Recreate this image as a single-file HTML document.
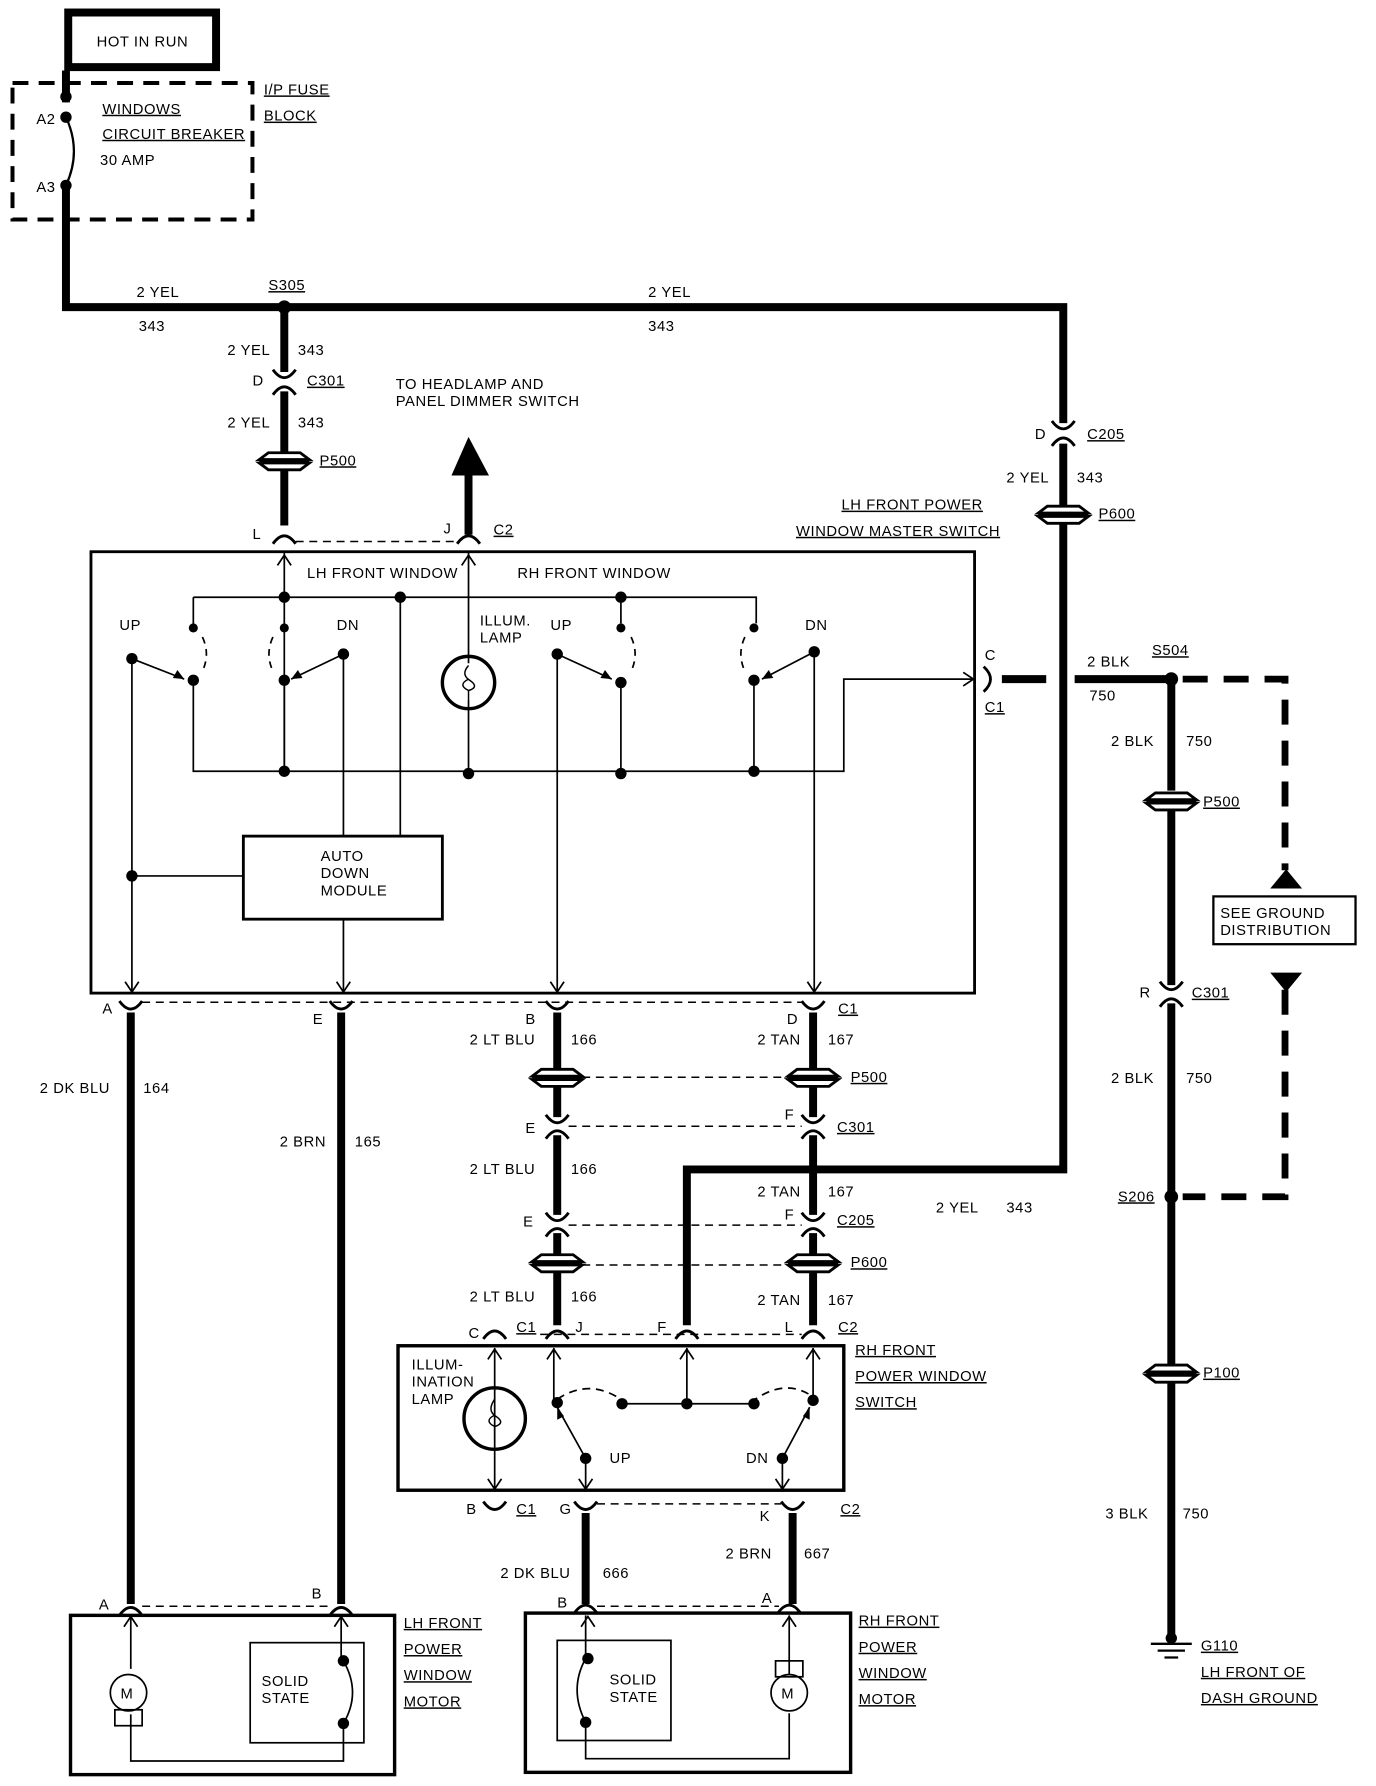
<!DOCTYPE html>
<html><head><meta charset="utf-8"><style>
html,body{margin:0;padding:0;background:#fff}
svg{display:block}
text{font-family:"Liberation Sans",sans-serif;font-size:13px;fill:#000;letter-spacing:0.5px}
.u{text-decoration:underline}
</style></head><body>
<svg width="1376" height="1786" viewBox="0 0 1210 1570" preserveAspectRatio="none" xmlns="http://www.w3.org/2000/svg">
<defs>
<path id="up" d="M-10,5 Q0,-9 10,5" fill="none" stroke="#000" stroke-width="2.5"/>
<path id="dn" d="M-10,-5 Q0,9 10,-5" fill="none" stroke="#000" stroke-width="2.5"/>
<g id="gr"><path d="M-14,-7 L14,-7 L22,-1 L-22,-1 Z M-22,2 L22,2 L14,8 L-14,8 Z" fill="#fff" stroke="#000" stroke-width="2.5"/><line x1="-22" y1="0.5" x2="22" y2="0.5" stroke="#000" stroke-width="2"/></g>
<path id="ah" d="M-6,-9 L0,0 L6,-9" fill="none" stroke="#000" stroke-width="1.5"/>
</defs>
<rect width="1210" height="1570" fill="#fff"/>
<g fill="none" stroke="#000">
<rect x="60" y="11" width="130" height="48" stroke-width="7"/>
<rect x="11" y="73" width="211" height="120" stroke-width="3.5" stroke-dasharray="14,9"/>
<g stroke-width="7">
<path d="M58,62 V90 M58,163 V270 H935 V372 M935,390 V445 M935,460 V1028 H604 V1165"/>
<path d="M250,270 V327 M250,344 V398 M250,412 V462"/>
<path d="M412,470 V410"/>
<path d="M881,597 H920 M945,597 H1030 V695 M1030,712 V866 M1030,882 V1200 M1030,1215 V1440"/>
<path d="M115,890 V1410 M300,890 V1410"/>
<path d="M490,890 V940 M490,955 V982 M490,998 V1068 M490,1084 V1103 M490,1118 V1165"/>
<path d="M715,890 V940 M715,955 V982 M715,998 V1068 M715,1084 V1103 M715,1118 V1165"/>
<path d="M515,1330 V1410 M697,1330 V1410"/>
</g>
<path d="M397,418 L412,384 L430,418 Z" fill="#000" stroke="none"/>
<path d="M58,103 Q72,133 58,163" stroke-width="2"/>
<path d="M1040,597 H1130 V765 M1130,870 V1052 H1040" stroke-width="6" stroke-dasharray="22,14"/>
<path d="M1117,781 L1131,764 L1145,781 Z M1117,855 L1145,855 L1131,872 Z" fill="#000" stroke="none"/>
<rect x="1067" y="788" width="125" height="42" stroke-width="2"/>
<g stroke-width="1.3" stroke-dasharray="7,5">
<path d="M260,476 H402 M125,881 H705 M500,947 H693 M500,990 H705 M500,1077 H705 M500,1112 H693 M525,1322 H687 M125,1412 H290 M525,1412 H685 M475,1173 H705"/>
</g>
<rect x="80" y="485" width="777" height="388" stroke-width="2.5"/>
<g stroke-width="1.5">
<path d="M250,485 V678 M170,525 H665 V548 M170,525 V550 M546,525 V548 M352,525 V735 M412,485 V583 M412,615 V678"/>
<path d="M170,598 V678 H742 V597 H857 M250,598 V678 M546,600 V678 M663,598 V678"/>
<path d="M116,579 V873 M302,575 V735 M302,808 V873 M490,575 V873 M716,573 V873 M116,770 H214"/>
<path d="M116,579 L162,597 M302,575 L256,597 M490,575 L538,597 M716,573 L670,597" />
<path d="M178,560 Q185,575 178,590 M240,560 Q233,575 240,590 M555,560 Q562,575 555,590 M655,560 Q648,575 655,590" stroke-dasharray="6,5"/>
</g>
<rect x="214" y="735" width="175" height="73" stroke-width="2.5"/>
<circle cx="412" cy="600" r="23" stroke-width="3"/>
<path d="M412,585 Q405,593 413,598 Q422,604 412,607 Q402,602 412,597 M412,607 V615" stroke-width="1.3"/>
<rect x="350" y="1183" width="392" height="127" stroke-width="3"/>
<g stroke-width="1.5">
<path d="M435,1185 V1310 M487,1185 V1230 M604,1185 V1234 M715,1185 V1230 M547,1234 H663"/>
<path d="M515,1282 V1310 M688,1282 V1310 M515,1282 L490,1237 M688,1282 L712,1237"/>
<path d="M490,1230 Q520,1210 550,1233 M660,1233 Q690,1210 715,1228" stroke-dasharray="7,5"/>
</g>
<circle cx="435" cy="1247" r="27" stroke-width="3"/>
<path d="M435,1230 Q428,1240 436,1245 Q445,1251 435,1254 Q425,1249 435,1244 M435,1254 V1265" stroke-width="1.3"/>
<rect x="62" y="1420" width="285" height="140" stroke-width="3"/>
<rect x="462" y="1418" width="286" height="140" stroke-width="3"/>
<rect x="220" y="1444" width="100" height="88" stroke-width="1.5"/>
<rect x="490" y="1442" width="100" height="88" stroke-width="1.5"/>
<g stroke-width="1.5">
<path d="M115,1420 V1467 M115,1507 V1548 H302 V1515 M300,1420 V1460 M302,1460 Q318,1488 302,1515"/>
<circle cx="113" cy="1488" r="16"/><rect x="101" y="1503" width="24" height="14"/>
<path d="M515,1420 V1458 M515,1458 Q500,1485 515,1514 V1546 H694 V1506 M694,1420 V1472"/>
<circle cx="694" cy="1488" r="16"/><rect x="682" y="1460" width="24" height="14"/>
</g>
<path d="M1012,1445 H1048 M1018,1451 H1042 M1024,1457 H1036" stroke-width="2"/>
</g>
<g fill="#000">
<circle cx="58" cy="85" r="5"/><circle cx="58" cy="103" r="5"/><circle cx="58" cy="163" r="5"/>
<circle cx="250" cy="270" r="6"/><circle cx="1030" cy="597" r="6"/><circle cx="1030" cy="1052" r="6"/><circle cx="1030" cy="1440" r="5"/>
<circle cx="250" cy="525" r="5"/><circle cx="352" cy="525" r="5"/><circle cx="546" cy="525" r="5"/>
<circle cx="170" cy="552" r="4"/><circle cx="250" cy="552" r="4"/><circle cx="546" cy="552" r="4"/><circle cx="663" cy="552" r="4"/>
<circle cx="116" cy="579" r="5"/><circle cx="302" cy="575" r="5"/><circle cx="490" cy="575" r="5"/><circle cx="716" cy="573" r="5"/>
<circle cx="170" cy="598" r="5"/><circle cx="250" cy="598" r="5"/><circle cx="546" cy="600" r="5"/><circle cx="663" cy="598" r="5"/>
<circle cx="250" cy="678" r="5"/><circle cx="412" cy="680" r="5"/><circle cx="546" cy="680" r="5"/><circle cx="663" cy="678" r="5"/>
<circle cx="116" cy="770" r="5"/>
<circle cx="490" cy="1233" r="5"/><circle cx="547" cy="1234" r="5"/><circle cx="604" cy="1234" r="5"/><circle cx="663" cy="1234" r="5"/><circle cx="715" cy="1231" r="5"/>
<circle cx="515" cy="1282" r="5"/><circle cx="688" cy="1282" r="5"/>
<circle cx="517" cy="1458" r="5"/><circle cx="515" cy="1514" r="5"/><circle cx="302" cy="1460" r="5"/><circle cx="302" cy="1515" r="5"/>
</g>
<g>
<use href="#ah" transform="translate(250,488) rotate(180)"/><use href="#ah" transform="translate(412,488) rotate(180)"/>
<use href="#ah" transform="translate(116,872)"/><use href="#ah" transform="translate(302,872)"/><use href="#ah" transform="translate(490,872)"/><use href="#ah" transform="translate(716,872)"/>
<use href="#ah" transform="translate(856,597) rotate(-90)"/>
<use href="#ah" transform="translate(435,1186) rotate(180)"/><use href="#ah" transform="translate(487,1186) rotate(180)"/><use href="#ah" transform="translate(604,1186) rotate(180)"/><use href="#ah" transform="translate(715,1186) rotate(180)"/>
<use href="#ah" transform="translate(435,1309)"/><use href="#ah" transform="translate(515,1309)"/><use href="#ah" transform="translate(688,1309)"/>
<use href="#ah" transform="translate(115,1421) rotate(180)"/><use href="#ah" transform="translate(300,1421) rotate(180)"/><use href="#ah" transform="translate(517,1421) rotate(180)"/><use href="#ah" transform="translate(694,1421) rotate(180)"/>
<path d="M162,597 l-10,-1 l4,-7 z M256,597 l10,-1 l-4,-7 z M538,597 l-10,-1 l4,-7 z M670,597 l10,-1 l-4,-7 z M490,1237 l0,11 l6,-3 z M712,1237 l0,11 l-6,-3 z" fill="#000"/>
</g>
<g>
<use href="#dn" x="250" y="330"/><use href="#up" x="250" y="342"/>
<use href="#dn" x="935" y="375"/><use href="#up" x="935" y="387"/>
<use href="#dn" x="1030" y="868"/><use href="#up" x="1030" y="880"/>
<use href="#up" x="250" y="473"/><use href="#up" x="412" y="473"/>
<use href="#dn" x="115" y="885"/><use href="#dn" x="300" y="885"/><use href="#dn" x="490" y="885"/><use href="#dn" x="715" y="885"/>
<use href="#dn" x="490" y="985"/><use href="#up" x="490" y="996"/><use href="#dn" x="715" y="985"/><use href="#up" x="715" y="996"/>
<use href="#dn" x="490" y="1071"/><use href="#up" x="490" y="1082"/><use href="#dn" x="715" y="1071"/><use href="#up" x="715" y="1082"/>
<use href="#up" x="435" y="1172"/><use href="#up" x="490" y="1172"/><use href="#up" x="604" y="1172"/><use href="#up" x="715" y="1172"/>
<use href="#dn" x="435" y="1325"/><use href="#dn" x="515" y="1325"/><use href="#dn" x="697" y="1325"/>
<use href="#up" x="115" y="1415"/><use href="#up" x="300" y="1415"/><use href="#up" x="515" y="1413"/><use href="#up" x="694" y="1413"/>
<path d="M865,586 Q877,597 865,608" fill="none" stroke="#000" stroke-width="2.5"/>
<use href="#gr" x="250" y="405"/><use href="#gr" x="935" y="452"/><use href="#gr" x="1030" y="704"/><use href="#gr" x="1030" y="1207"/>
<use href="#gr" x="490" y="947"/><use href="#gr" x="715" y="947"/><use href="#gr" x="490" y="1110"/><use href="#gr" x="715" y="1110"/>
</g>
<text x="85" y="41">HOT IN RUN</text>
<text x="90" y="100" class="u">WINDOWS</text>
<text x="90" y="122" class="u">CIRCUIT BREAKER</text>
<text x="88" y="145">30 AMP</text>
<text x="32" y="109">A2</text><text x="32" y="169">A3</text>
<text x="232" y="83" class="u">I/P FUSE</text><text x="232" y="106" class="u">BLOCK</text>
<text x="120" y="261">2 YEL</text><text x="122" y="291">343</text>
<text x="236" y="255" class="u">S305</text>
<text x="570" y="261">2 YEL</text><text x="570" y="291">343</text>
<text x="200" y="312">2 YEL</text><text x="262" y="312">343</text>
<text x="222" y="339">D</text><text x="270" y="339" class="u">C301</text>
<text x="200" y="376">2 YEL</text><text x="262" y="376">343</text>
<text x="281" y="409" class="u">P500</text>
<text x="348" y="342">TO HEADLAMP AND</text><text x="348" y="357">PANEL DIMMER SWITCH</text>
<text x="222" y="474">L</text><text x="390" y="469">J</text><text x="434" y="470" class="u">C2</text>
<text x="740" y="448" class="u">LH FRONT POWER</text>
<text x="700" y="471" class="u">WINDOW MASTER SWITCH</text>
<text x="270" y="508">LH FRONT WINDOW</text><text x="455" y="508">RH FRONT WINDOW</text>
<text x="105" y="554">UP</text><text x="296" y="554">DN</text><text x="484" y="554">UP</text><text x="708" y="554">DN</text>
<text x="422" y="550">ILLUM.</text><text x="422" y="565">LAMP</text>
<text x="282" y="757">AUTO</text><text x="282" y="772">DOWN</text><text x="282" y="787">MODULE</text>
<text x="866" y="580">C</text><text x="866" y="626" class="u">C1</text>
<text x="910" y="386">D</text><text x="956" y="386" class="u">C205</text>
<text x="885" y="424">2 YEL</text><text x="947" y="424">343</text>
<text x="966" y="456" class="u">P600</text>
<text x="956" y="586">2 BLK</text><text x="958" y="616">750</text>
<text x="1013" y="576" class="u">S504</text>
<text x="977" y="656">2 BLK</text><text x="1043" y="656">750</text>
<text x="1058" y="709" class="u">P500</text>
<text x="1073" y="807">SEE GROUND</text><text x="1073" y="822">DISTRIBUTION</text>
<text x="1002" y="877">R</text><text x="1048" y="877" class="u">C301</text>
<text x="977" y="952">2 BLK</text><text x="1043" y="952">750</text>
<text x="983" y="1056" class="u">S206</text>
<text x="1058" y="1211" class="u">P100</text>
<text x="972" y="1335">3 BLK</text><text x="1040" y="1335">750</text>
<text x="1056" y="1451" class="u">G110</text><text x="1056" y="1474" class="u">LH FRONT OF</text><text x="1056" y="1497" class="u">DASH GROUND</text>
<text x="90" y="891">A</text><text x="275" y="900">E</text><text x="462" y="900">B</text><text x="692" y="900">D</text><text x="737" y="891" class="u">C1</text>
<text x="35" y="961">2 DK BLU</text><text x="126" y="961">164</text>
<text x="246" y="1008">2 BRN</text><text x="312" y="1008">165</text>
<text x="413" y="918">2 LT BLU</text><text x="502" y="918">166</text>
<text x="666" y="918">2 TAN</text><text x="728" y="918">167</text>
<text x="748" y="951" class="u">P500</text>
<text x="462" y="996">E</text><text x="690" y="984">F</text><text x="736" y="995" class="u">C301</text>
<text x="413" y="1032">2 LT BLU</text><text x="502" y="1032">166</text>
<text x="666" y="1052">2 TAN</text><text x="728" y="1052">167</text>
<text x="823" y="1066">2 YEL</text><text x="885" y="1066">343</text>
<text x="460" y="1078">E</text><text x="690" y="1072">F</text><text x="736" y="1077" class="u">C205</text>
<text x="748" y="1114" class="u">P600</text>
<text x="413" y="1144">2 LT BLU</text><text x="502" y="1144">166</text>
<text x="666" y="1147">2 TAN</text><text x="728" y="1147">167</text>
<text x="412" y="1176">C</text><text x="454" y="1171" class="u">C1</text><text x="506" y="1171">J</text><text x="578" y="1171">F</text><text x="690" y="1171">L</text><text x="737" y="1171" class="u">C2</text>
<text x="752" y="1191" class="u">RH FRONT</text><text x="752" y="1214" class="u">POWER WINDOW</text><text x="752" y="1237" class="u">SWITCH</text>
<text x="362" y="1204">ILLUM-</text><text x="362" y="1219">INATION</text><text x="362" y="1234">LAMP</text>
<text x="536" y="1286">UP</text><text x="656" y="1286">DN</text>
<text x="410" y="1331">B</text><text x="454" y="1331" class="u">C1</text><text x="492" y="1331">G</text><text x="668" y="1337">K</text><text x="739" y="1331" class="u">C2</text>
<text x="638" y="1370">2 BRN</text><text x="707" y="1370">667</text>
<text x="440" y="1387">2 DK BLU</text><text x="530" y="1387">666</text>
<text x="87" y="1415">A</text><text x="274" y="1405">B</text><text x="490" y="1413">B</text><text x="670" y="1409">A</text>
<text x="355" y="1431" class="u">LH FRONT</text><text x="355" y="1454" class="u">POWER</text><text x="355" y="1477" class="u">WINDOW</text><text x="355" y="1500" class="u">MOTOR</text>
<text x="755" y="1429" class="u">RH FRONT</text><text x="755" y="1452" class="u">POWER</text><text x="755" y="1475" class="u">WINDOW</text><text x="755" y="1498" class="u">MOTOR</text>
<text x="230" y="1482">SOLID</text><text x="230" y="1497">STATE</text>
<text x="536" y="1481">SOLID</text><text x="536" y="1496">STATE</text>
<text x="106" y="1493">M</text><text x="687" y="1493">M</text>
</svg>
</body></html>
